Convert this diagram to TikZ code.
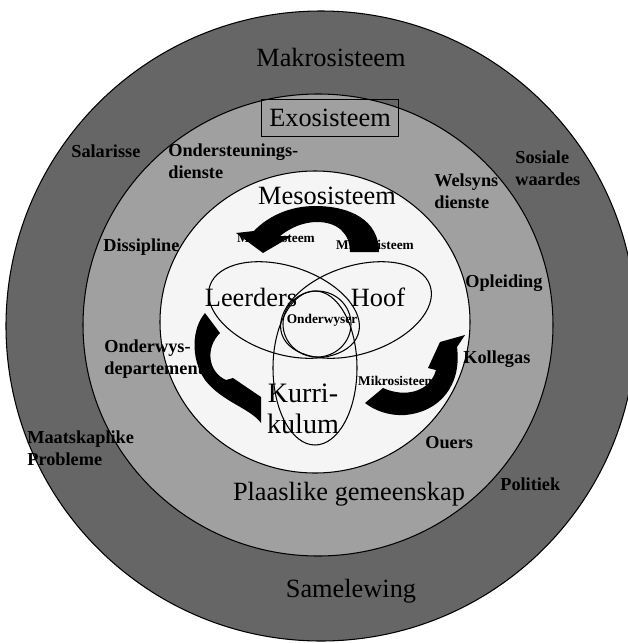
\documentclass[tikz,border=0pt]{standalone}
\usepackage{fontspec}
\setmainfont{Liberation Serif}
\definecolor{makrogray}{RGB}{102,102,102}
\definecolor{exogray}{RGB}{160,160,160}
\definecolor{mesowhite}{RGB}{245,245,245}

\begin{document}
\begin{tikzpicture}
[x=0.02cm,y=-0.02cm,every node/.style={inner sep=0pt},
 big/.style={font=\fontsize{15}{17}\selectfont},
 small/.style={font=\bfseries\fontsize{10.4}{12.8}\selectfont,align=left,anchor=west},
 tiny/.style={font=\bfseries\fontsize{7.6}{9}\selectfont},
 ring/.style={draw=black,line width=0.6pt},
 venn/.style={draw=black,line width=0.6pt}]
\useasboundingbox (0,0) rectangle (628,643);
\clip (0,0) rectangle (628,643);
\fill[white] (0,0) rectangle (628,643);
\draw[ring,fill=makrogray] (321,326) circle [radius=315];
\draw[ring,fill=exogray] (318,325) ellipse [x radius=235,y radius=231];
\draw[ring,fill=mesowhite] (315,322) ellipse [x radius=155,y radius=151];
\draw[venn,rotate around={-18:(284,310)}] (284,310) ellipse [x radius=78,y radius=44];
\draw[venn,rotate around={18:(356,310)}] (356,310) ellipse [x radius=78,y radius=44];
\draw[venn] (315,368) ellipse [x radius=42,y radius=77];
\draw[venn] (317,324) ellipse [x radius=34,y radius=33];
\node[big] (makro) at (331,57) {Makrosisteem};
\node[big,draw,line width=0.6pt,minimum width=78pt,minimum height=21.5pt] (exo) at (330,118) {Exosisteem};
\node[small] (salaris) at (71,151) {Salarisse};
\node[small] (onderst) at (168,161) {Ondersteunings-\\dienste};
\node[small] (sosiaal) at (515,168) {Sosiale\\waardes};
\node[small] (welsyn) at (434,191) {Welsyns\\dienste};
\node[small] (dissip) at (103,247) {Dissipline};
\node[small] (opleid) at (465,283) {Opleiding};
\node[small] (onderwys) at (104,359) {Onderwys-\\departement};
\node[small] (kollega) at (463,359) {Kollegas};
\node[small] (maatsk) at (27,448) {Maatskaplike\\Probleme};
\node[small] (ouers) at (425,443) {Ouers};
\node[small] (politiek) at (500,484) {Politiek};
\node[big] (plaaslik) at (349,494) {Plaaslike gemeenskap};
\node[big] (samelewing) at (351,591) {Samelewing};
\node[big] (meso) at (327,196) {Mesosisteem};
\node[big] (leerders) at (251,297) {Leerders};
\node[big] (hoof) at (378,297) {Hoof};
\node[align=center,font=\fontsize{16}{18}\selectfont] (kurri) at (303,409) {Kurri-\\kulum};
\node[tiny] (mikroA) at (276,238) {Mikrosisteem};
\node[tiny] (mikroB) at (375,245) {Mikrosisteem};
\node[tiny] (mikroC) at (397,381) {Mikrosisteem};
\node[tiny] (onderwyser) at (322,320) {Onderwyser};
\fill (379,252) .. controls (379,220) and (350,206) .. (315,206)
  .. controls (289,206) and (267,217) .. (254,231)
  -- (236,233) -- (263,253) -- (292,236) -- (280,236)
  .. controls (290,228) and (303,222) .. (317,222)
  .. controls (337,222) and (350,233) .. (350,252) -- cycle;
\fill (205,313) -- (220,333) .. controls (205,348) and (208,372) .. (226,380)
  -- (233,378) -- (261,397) -- (261,423)
  .. controls (250,408) and (222,402) .. (205,380)
  .. controls (190,358) and (192,328) .. (205,313) -- cycle;
\fill (365,403) -- (383,388) .. controls (405,398) and (430,392) .. (436,370)
  -- (428,368) -- (440,342) -- (465,335) -- (457,347)
  .. controls (462,385) and (440,412) .. (405,415)
  .. controls (388,416) and (374,410) .. (365,403) -- cycle;
\end{tikzpicture}
\end{document}
